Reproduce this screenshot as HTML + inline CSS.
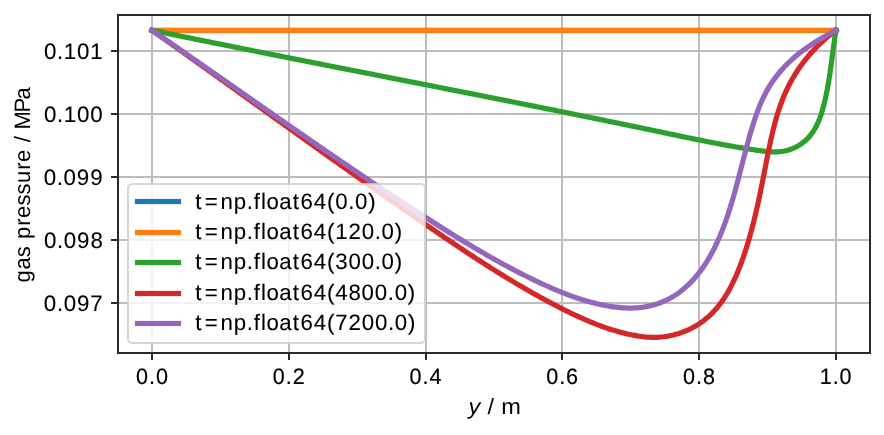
<!DOCTYPE html>
<html><head><meta charset="utf-8"><title>gas pressure</title>
<style>
html,body{margin:0;padding:0;background:#fff;}
body{width:884px;height:435px;overflow:hidden;}
svg{display:block;will-change:transform;}
text{font-family:"Liberation Sans",sans-serif;fill:#000;text-rendering:geometricPrecision;}
</style></head><body>
<svg width="884" height="435" viewBox="0 0 884 435">
<rect x="0" y="0" width="884" height="435" fill="#ffffff"/>
<g stroke="#bdbdbd" stroke-width="2" fill="none" shape-rendering="crispEdges">
<line x1="152.00" y1="15.00" x2="152.00" y2="353.00"/>
<line x1="289.00" y1="15.00" x2="289.00" y2="353.00"/>
<line x1="426.00" y1="15.00" x2="426.00" y2="353.00"/>
<line x1="562.00" y1="15.00" x2="562.00" y2="353.00"/>
<line x1="699.00" y1="15.00" x2="699.00" y2="353.00"/>
<line x1="836.00" y1="15.00" x2="836.00" y2="353.00"/>
<line x1="118.00" y1="51.00" x2="870.00" y2="51.00"/>
<line x1="118.00" y1="114.00" x2="870.00" y2="114.00"/>
<line x1="118.00" y1="177.00" x2="870.00" y2="177.00"/>
<line x1="118.00" y1="240.00" x2="870.00" y2="240.00"/>
<line x1="118.00" y1="303.00" x2="870.00" y2="303.00"/>
</g>
<g stroke="#2a2a2a" stroke-width="2" fill="none" shape-rendering="crispEdges">
<line x1="152.00" y1="353.00" x2="152.00" y2="360.00"/>
<line x1="289.00" y1="353.00" x2="289.00" y2="360.00"/>
<line x1="426.00" y1="353.00" x2="426.00" y2="360.00"/>
<line x1="562.00" y1="353.00" x2="562.00" y2="360.00"/>
<line x1="699.00" y1="353.00" x2="699.00" y2="360.00"/>
<line x1="836.00" y1="353.00" x2="836.00" y2="360.00"/>
<line x1="111.00" y1="51.00" x2="118.00" y2="51.00"/>
<line x1="111.00" y1="114.00" x2="118.00" y2="114.00"/>
<line x1="111.00" y1="177.00" x2="118.00" y2="177.00"/>
<line x1="111.00" y1="240.00" x2="118.00" y2="240.00"/>
<line x1="111.00" y1="303.00" x2="118.00" y2="303.00"/>
</g>
<defs><clipPath id="ax"><rect x="118.00" y="15.00" width="752.00" height="338.00"/></clipPath></defs>
<g clip-path="url(#ax)" fill="none" stroke-width="5.2" stroke-linecap="square" stroke-linejoin="round">
<rect x="149.6" y="28" width="688.8" height="5" fill="#1f77b4"/>
<rect x="149.6" y="27" width="688.8" height="1" fill="#1f77b4" fill-opacity="0.10"/>
<rect x="149.6" y="33" width="688.8" height="1" fill="#1f77b4" fill-opacity="0.10"/>
<rect x="149.6" y="28" width="688.8" height="4" fill="#ff7f0e"/>
<rect x="149.6" y="27" width="688.8" height="1" fill="#ff7f0e" fill-opacity="0.25"/>
<rect x="149.6" y="32" width="688.8" height="1" fill="#ff7f0e" fill-opacity="0.95"/>
<path d="M152.00,30.30 L153.92,30.70 L155.84,31.09 L157.77,31.48 L159.69,31.88 L161.61,32.27 L163.53,32.67 L165.46,33.06 L167.38,33.45 L169.30,33.85 L171.23,34.24 L173.15,34.63 L175.07,35.03 L177.00,35.42 L178.92,35.81 L180.84,36.20 L182.77,36.59 L184.69,36.98 L186.62,37.37 L188.54,37.77 L190.47,38.16 L192.39,38.55 L194.31,38.94 L196.24,39.33 L198.17,39.72 L200.09,40.11 L202.02,40.49 L203.94,40.88 L205.87,41.27 L207.79,41.66 L209.72,42.05 L211.64,42.44 L213.57,42.83 L215.50,43.21 L217.42,43.60 L219.35,43.99 L221.28,44.38 L223.20,44.76 L225.13,45.15 L227.06,45.54 L228.98,45.92 L230.91,46.31 L232.84,46.69 L234.77,47.08 L236.69,47.47 L238.62,47.85 L240.55,48.24 L242.48,48.62 L244.40,49.01 L246.33,49.39 L248.26,49.78 L250.19,50.16 L252.12,50.55 L254.05,50.93 L255.97,51.31 L257.90,51.70 L259.83,52.08 L261.76,52.47 L263.69,52.85 L265.62,53.23 L267.55,53.62 L269.48,54.00 L271.40,54.38 L273.33,54.77 L275.26,55.15 L277.19,55.53 L279.12,55.91 L281.05,56.30 L282.98,56.68 L284.91,57.06 L286.84,57.44 L288.77,57.82 L290.70,58.21 L292.63,58.59 L294.56,58.97 L296.49,59.35 L298.42,59.73 L300.35,60.11 L302.28,60.49 L304.21,60.88 L306.14,61.26 L308.07,61.64 L310.00,62.02 L311.93,62.40 L313.86,62.78 L315.79,63.16 L317.73,63.54 L319.66,63.92 L321.59,64.30 L323.52,64.68 L325.45,65.06 L327.38,65.44 L329.31,65.82 L331.24,66.20 L333.17,66.58 L335.10,66.96 L337.04,67.34 L338.97,67.72 L340.90,68.10 L342.83,68.48 L344.76,68.86 L346.69,69.24 L348.62,69.62 L350.55,70.00 L352.49,70.38 L354.42,70.76 L356.35,71.14 L358.28,71.52 L360.21,71.89 L362.14,72.27 L364.07,72.65 L366.01,73.03 L367.94,73.41 L369.87,73.79 L371.80,74.17 L373.73,74.55 L375.66,74.93 L377.59,75.31 L379.53,75.69 L381.46,76.06 L383.39,76.44 L385.32,76.82 L387.25,77.20 L389.18,77.58 L391.12,77.96 L393.05,78.34 L394.98,78.72 L396.91,79.10 L398.84,79.48 L400.77,79.86 L402.71,80.23 L404.64,80.61 L406.57,80.99 L408.50,81.37 L410.43,81.75 L412.36,82.13 L414.29,82.51 L416.23,82.89 L418.16,83.27 L420.09,83.65 L422.02,84.03 L423.95,84.41 L425.88,84.79 L427.81,85.16 L429.75,85.54 L431.68,85.92 L433.61,86.30 L435.54,86.68 L437.47,87.06 L439.40,87.44 L441.33,87.82 L443.26,88.20 L445.20,88.58 L447.13,88.96 L449.06,89.34 L450.99,89.72 L452.92,90.10 L454.85,90.48 L456.78,90.86 L458.71,91.24 L460.64,91.62 L462.57,92.00 L464.50,92.39 L466.43,92.77 L468.37,93.15 L470.30,93.53 L472.23,93.91 L474.16,94.29 L476.09,94.67 L478.02,95.05 L479.95,95.43 L481.88,95.82 L483.81,96.20 L485.74,96.58 L487.67,96.96 L489.60,97.34 L491.53,97.73 L493.46,98.11 L495.39,98.49 L497.32,98.87 L499.25,99.26 L501.17,99.64 L503.10,100.02 L505.03,100.40 L506.96,100.79 L508.89,101.17 L510.82,101.55 L512.75,101.94 L514.68,102.32 L516.61,102.71 L518.54,103.09 L520.46,103.47 L522.39,103.86 L524.32,104.24 L526.25,104.63 L528.18,105.01 L530.11,105.40 L532.03,105.78 L533.96,106.17 L535.89,106.55 L537.82,106.94 L539.75,107.32 L541.67,107.71 L543.60,108.10 L545.53,108.48 L547.45,108.87 L549.38,109.26 L551.31,109.64 L553.24,110.03 L555.16,110.42 L557.09,110.80 L559.02,111.19 L560.94,111.58 L562.87,111.97 L564.79,112.36 L566.72,112.74 L568.65,113.13 L570.57,113.52 L572.50,113.91 L574.42,114.30 L576.35,114.69 L578.27,115.08 L580.20,115.47 L582.12,115.86 L584.05,116.25 L585.97,116.64 L587.90,117.03 L589.82,117.42 L591.75,117.81 L593.67,118.20 L595.60,118.60 L597.52,118.99 L599.44,119.38 L601.37,119.77 L603.29,120.17 L605.22,120.56 L607.14,120.95 L609.06,121.34 L610.98,121.74 L612.91,122.13 L614.83,122.53 L616.75,122.92 L618.67,123.32 L620.60,123.71 L622.52,124.11 L624.44,124.50 L626.36,124.90 L628.28,125.29 L630.21,125.69 L632.13,126.09 L634.05,126.48 L635.97,126.88 L637.89,127.28 L639.81,127.67 L641.73,128.07 L643.65,128.47 L645.57,128.87 L647.49,129.27 L649.41,129.67 L651.33,130.07 L653.25,130.47 L655.17,130.87 L657.09,131.27 L659.01,131.67 L660.92,132.07 L662.84,132.47 L664.76,132.87 L666.68,133.27 L668.60,133.68 L670.52,134.08 L672.43,134.48 L674.35,134.88 L676.27,135.28 L678.19,135.68 L680.11,136.08 L682.03,136.48 L683.95,136.88 L685.87,137.28 L687.79,137.68 L689.71,138.07 L691.63,138.47 L693.55,138.86 L695.48,139.25 L697.40,139.64 L699.33,140.03 L701.25,140.42 L703.18,140.80 L705.11,141.18 L707.04,141.56 L708.97,141.94 L710.90,142.32 L712.84,142.69 L714.77,143.06 L716.71,143.43 L718.64,143.80 L720.58,144.16 L722.52,144.52 L724.47,144.88 L726.41,145.23 L728.36,145.58 L730.31,145.93 L732.26,146.27 L734.21,146.61 L736.16,146.95 L738.12,147.28 L740.08,147.61 L742.04,147.93 L744.00,148.25 L745.97,148.57 L747.93,148.88 L749.91,149.19 L751.88,149.49 L753.85,149.79 L755.83,150.08 L757.81,150.37 L759.80,150.65 L761.78,150.91 L763.76,151.15 L765.74,151.37 L767.72,151.55 L769.69,151.70 L771.65,151.80 L773.61,151.85 L775.56,151.85 L777.50,151.79 L779.42,151.67 L781.34,151.47 L783.24,151.20 L785.12,150.84 L786.98,150.41 L788.83,149.89 L790.65,149.28 L792.44,148.60 L794.21,147.85 L795.94,147.01 L797.63,146.11 L799.29,145.13 L800.90,144.08 L802.46,142.97 L803.98,141.78 L805.44,140.54 L806.85,139.23 L808.20,137.85 L809.49,136.42 L810.71,134.93 L811.88,133.39 L812.99,131.80 L814.04,130.16 L815.03,128.47 L815.98,126.74 L816.87,124.97 L817.72,123.17 L818.52,121.34 L819.28,119.48 L820.00,117.59 L820.69,115.68 L821.33,113.75 L821.94,111.81 L822.53,109.85 L823.08,107.88 L823.60,105.91 L824.10,103.93 L824.58,101.95 L825.04,99.98 L825.48,98.01 L825.91,96.05 L826.32,94.09 L826.71,92.14 L827.09,90.20 L827.46,88.26 L827.81,86.32 L828.15,84.39 L828.48,82.46 L828.80,80.54 L829.11,78.62 L829.41,76.69 L829.70,74.78 L829.99,72.86 L830.27,70.94 L830.54,69.03 L830.81,67.12 L831.07,65.20 L831.33,63.29 L831.59,61.37 L831.85,59.45 L832.10,57.54 L832.36,55.62 L832.61,53.69 L832.87,51.77 L833.13,49.84 L833.39,47.91 L833.65,45.97 L833.92,44.03 L834.20,42.09 L834.48,40.14 L834.77,38.18 L835.06,36.22 L835.37,34.25 L835.68,32.28 L836.00,30.30" stroke="#2ca02c"/>
<path d="M152.00,30.30 L153.99,31.71 L155.98,33.11 L157.97,34.52 L159.96,35.93 L161.95,37.34 L163.94,38.75 L165.93,40.16 L167.92,41.57 L169.91,42.98 L171.90,44.39 L173.89,45.80 L175.87,47.22 L177.86,48.63 L179.85,50.04 L181.84,51.46 L183.82,52.87 L185.81,54.28 L187.80,55.70 L189.78,57.12 L191.77,58.53 L193.76,59.95 L195.74,61.36 L197.73,62.78 L199.71,64.20 L201.70,65.62 L203.68,67.04 L205.67,68.45 L207.65,69.87 L209.64,71.29 L211.62,72.71 L213.61,74.13 L215.59,75.55 L217.58,76.97 L219.56,78.39 L221.54,79.81 L223.53,81.23 L225.51,82.65 L227.49,84.07 L229.48,85.50 L231.46,86.92 L233.45,88.34 L235.43,89.76 L237.41,91.18 L239.40,92.60 L241.38,94.03 L243.36,95.45 L245.34,96.87 L247.33,98.29 L249.31,99.72 L251.29,101.14 L253.28,102.56 L255.26,103.98 L257.24,105.41 L259.23,106.83 L261.21,108.25 L263.19,109.67 L265.18,111.10 L267.16,112.52 L269.14,113.94 L271.13,115.36 L273.11,116.79 L275.10,118.21 L277.08,119.63 L279.06,121.05 L281.05,122.47 L283.03,123.90 L285.01,125.32 L287.00,126.74 L288.98,128.16 L290.97,129.58 L292.95,131.00 L294.94,132.42 L296.92,133.84 L298.91,135.26 L300.89,136.68 L302.88,138.10 L304.86,139.52 L306.85,140.94 L308.84,142.36 L310.82,143.78 L312.81,145.20 L314.80,146.62 L316.78,148.03 L318.77,149.45 L320.76,150.87 L322.75,152.28 L324.73,153.70 L326.72,155.12 L328.71,156.53 L330.70,157.95 L332.69,159.36 L334.68,160.77 L336.67,162.19 L338.66,163.60 L340.65,165.01 L342.64,166.43 L344.63,167.84 L346.62,169.25 L348.61,170.66 L350.60,172.07 L352.59,173.48 L354.59,174.89 L356.58,176.30 L358.57,177.71 L360.56,179.11 L362.56,180.52 L364.55,181.93 L366.55,183.33 L368.54,184.74 L370.54,186.14 L372.53,187.54 L374.53,188.95 L376.53,190.35 L378.52,191.75 L380.52,193.15 L382.52,194.55 L384.52,195.95 L386.52,197.35 L388.52,198.75 L390.52,200.14 L392.52,201.54 L394.52,202.94 L396.52,204.33 L398.52,205.73 L400.52,207.12 L402.53,208.51 L404.53,209.90 L406.53,211.29 L408.54,212.68 L410.54,214.07 L412.55,215.46 L414.55,216.85 L416.56,218.23 L418.57,219.62 L420.58,221.00 L422.58,222.39 L424.59,223.77 L426.60,225.15 L428.61,226.53 L430.62,227.91 L432.63,229.29 L434.65,230.67 L436.66,232.04 L438.67,233.42 L440.69,234.79 L442.70,236.16 L444.72,237.53 L446.74,238.90 L448.76,240.27 L450.78,241.63 L452.80,242.99 L454.82,244.35 L456.84,245.71 L458.87,247.07 L460.90,248.42 L462.93,249.77 L464.96,251.12 L466.99,252.46 L469.02,253.81 L471.06,255.15 L473.10,256.48 L475.14,257.81 L477.18,259.14 L479.22,260.47 L481.27,261.79 L483.32,263.11 L485.37,264.43 L487.42,265.74 L489.48,267.04 L491.54,268.35 L493.60,269.65 L495.67,270.94 L497.73,272.23 L499.80,273.52 L501.87,274.80 L503.95,276.08 L506.03,277.35 L508.11,278.61 L510.20,279.88 L512.28,281.13 L514.38,282.39 L516.47,283.63 L518.57,284.87 L520.67,286.11 L522.78,287.34 L524.89,288.56 L527.00,289.78 L529.12,290.99 L531.24,292.20 L533.36,293.40 L535.49,294.60 L537.62,295.78 L539.76,296.96 L541.90,298.14 L544.04,299.31 L546.19,300.47 L548.35,301.62 L550.51,302.77 L552.67,303.91 L554.84,305.04 L557.01,306.17 L559.18,307.29 L561.37,308.40 L563.55,309.50 L565.74,310.60 L567.94,311.68 L570.14,312.76 L572.35,313.82 L574.56,314.87 L576.78,315.91 L579.01,316.93 L581.24,317.95 L583.47,318.94 L585.72,319.92 L587.97,320.88 L590.22,321.83 L592.48,322.76 L594.75,323.66 L597.03,324.55 L599.31,325.42 L601.60,326.26 L603.90,327.09 L606.21,327.89 L608.52,328.66 L610.84,329.42 L613.17,330.14 L615.51,330.84 L617.85,331.52 L620.21,332.16 L622.57,332.78 L624.94,333.37 L627.32,333.92 L629.71,334.45 L632.11,334.94 L634.51,335.40 L636.93,335.83 L639.35,336.21 L641.78,336.54 L644.21,336.83 L646.64,337.05 L649.08,337.22 L651.52,337.32 L653.97,337.35 L656.41,337.31 L658.85,337.19 L661.28,337.00 L663.71,336.74 L666.13,336.40 L668.54,336.00 L670.93,335.52 L673.31,334.97 L675.67,334.36 L678.01,333.67 L680.33,332.92 L682.63,332.11 L684.90,331.23 L687.14,330.28 L689.35,329.28 L691.52,328.21 L693.66,327.07 L695.77,325.88 L697.83,324.63 L699.86,323.32 L701.83,321.95 L703.77,320.53 L705.65,319.05 L707.49,317.51 L709.27,315.92 L711.01,314.28 L712.69,312.58 L714.33,310.84 L715.93,309.06 L717.48,307.23 L718.99,305.35 L720.45,303.44 L721.88,301.49 L723.26,299.50 L724.61,297.47 L725.91,295.41 L727.18,293.32 L728.41,291.20 L729.61,289.05 L730.78,286.88 L731.91,284.68 L733.01,282.46 L734.08,280.22 L735.12,277.96 L736.13,275.68 L737.11,273.39 L738.07,271.08 L739.00,268.76 L739.91,266.44 L740.79,264.10 L741.65,261.76 L742.49,259.41 L743.32,257.07 L744.12,254.72 L744.90,252.37 L745.67,250.02 L746.42,247.67 L747.15,245.33 L747.86,242.98 L748.57,240.63 L749.25,238.28 L749.92,235.93 L750.58,233.59 L751.22,231.24 L751.85,228.89 L752.47,226.54 L753.07,224.19 L753.67,221.84 L754.25,219.48 L754.82,217.13 L755.38,214.78 L755.93,212.42 L756.48,210.07 L757.01,207.71 L757.54,205.35 L758.06,202.99 L758.57,200.63 L759.07,198.27 L759.57,195.91 L760.07,193.54 L760.55,191.18 L761.04,188.81 L761.52,186.44 L761.99,184.06 L762.47,181.69 L762.94,179.31 L763.41,176.93 L763.88,174.55 L764.34,172.17 L764.81,169.78 L765.27,167.39 L765.74,165.00 L766.21,162.61 L766.68,160.21 L767.15,157.81 L767.62,155.41 L768.10,153.01 L768.58,150.60 L769.07,148.20 L769.57,145.80 L770.08,143.39 L770.59,140.99 L771.12,138.59 L771.66,136.20 L772.21,133.80 L772.78,131.42 L773.36,129.03 L773.96,126.65 L774.57,124.28 L775.21,121.91 L775.86,119.56 L776.54,117.21 L777.24,114.86 L777.96,112.53 L778.70,110.21 L779.47,107.89 L780.27,105.59 L781.09,103.30 L781.95,101.02 L782.83,98.76 L783.74,96.51 L784.69,94.27 L785.67,92.05 L786.68,89.84 L787.73,87.65 L788.82,85.48 L789.94,83.32 L791.09,81.18 L792.28,79.06 L793.51,76.95 L794.77,74.87 L796.06,72.81 L797.39,70.76 L798.75,68.74 L800.14,66.73 L801.56,64.75 L803.02,62.79 L804.50,60.85 L806.02,58.94 L807.57,57.05 L809.14,55.18 L810.74,53.33 L812.38,51.51 L814.04,49.72 L815.73,47.95 L817.44,46.21 L819.19,44.49 L820.96,42.80 L822.75,41.14 L824.57,39.50 L826.42,37.89 L828.29,36.32 L830.18,34.77 L832.10,33.25 L834.04,31.76 L836.00,30.30" stroke="#d62728"/>
<path d="M152.00,30.30 L153.91,31.61 L155.83,32.93 L157.74,34.24 L159.66,35.56 L161.57,36.87 L163.48,38.19 L165.40,39.51 L167.31,40.82 L169.22,42.14 L171.13,43.46 L173.04,44.78 L174.95,46.10 L176.86,47.42 L178.77,48.74 L180.68,50.07 L182.59,51.39 L184.50,52.71 L186.41,54.03 L188.32,55.36 L190.22,56.68 L192.13,58.01 L194.04,59.33 L195.95,60.66 L197.85,61.98 L199.76,63.31 L201.67,64.63 L203.57,65.96 L205.48,67.29 L207.39,68.61 L209.29,69.94 L211.20,71.27 L213.10,72.60 L215.01,73.93 L216.91,75.25 L218.82,76.58 L220.72,77.91 L222.63,79.24 L224.53,80.57 L226.44,81.90 L228.34,83.23 L230.25,84.56 L232.15,85.89 L234.06,87.22 L235.96,88.55 L237.87,89.88 L239.77,91.21 L241.68,92.54 L243.58,93.86 L245.49,95.19 L247.39,96.52 L249.30,97.85 L251.20,99.18 L253.11,100.51 L255.01,101.84 L256.92,103.17 L258.82,104.50 L260.73,105.83 L262.63,107.16 L264.54,108.48 L266.44,109.81 L268.35,111.14 L270.26,112.47 L272.16,113.80 L274.07,115.12 L275.98,116.45 L277.88,117.78 L279.79,119.10 L281.70,120.43 L283.61,121.75 L285.51,123.08 L287.42,124.41 L289.33,125.73 L291.24,127.05 L293.15,128.38 L295.06,129.70 L296.97,131.02 L298.88,132.35 L300.79,133.67 L302.70,134.99 L304.61,136.31 L306.52,137.63 L308.43,138.95 L310.34,140.27 L312.26,141.59 L314.17,142.90 L316.08,144.22 L317.99,145.54 L319.91,146.85 L321.82,148.17 L323.74,149.48 L325.65,150.80 L327.57,152.11 L329.49,153.42 L331.40,154.73 L333.32,156.05 L335.24,157.36 L337.16,158.67 L339.08,159.97 L341.00,161.28 L342.92,162.59 L344.84,163.89 L346.76,165.20 L348.68,166.50 L350.60,167.81 L352.53,169.11 L354.45,170.41 L356.37,171.71 L358.30,173.01 L360.22,174.31 L362.15,175.61 L364.08,176.90 L366.01,178.20 L367.93,179.49 L369.86,180.79 L371.79,182.08 L373.72,183.37 L375.65,184.66 L377.59,185.95 L379.52,187.24 L381.45,188.52 L383.39,189.81 L385.32,191.09 L387.26,192.38 L389.19,193.66 L391.13,194.94 L393.07,196.22 L395.01,197.50 L396.95,198.77 L398.89,200.05 L400.83,201.32 L402.77,202.59 L404.72,203.87 L406.66,205.14 L408.61,206.41 L410.55,207.67 L412.50,208.94 L414.45,210.20 L416.40,211.47 L418.35,212.73 L420.30,213.99 L422.25,215.25 L424.21,216.50 L426.16,217.76 L428.11,219.01 L430.07,220.26 L432.03,221.52 L433.99,222.76 L435.95,224.01 L437.91,225.26 L439.87,226.50 L441.83,227.74 L443.80,228.98 L445.76,230.22 L447.73,231.45 L449.70,232.68 L451.67,233.91 L453.64,235.13 L455.62,236.36 L457.59,237.58 L459.57,238.79 L461.55,240.00 L463.53,241.21 L465.52,242.42 L467.51,243.62 L469.50,244.82 L471.49,246.01 L473.48,247.20 L475.48,248.39 L477.47,249.57 L479.48,250.74 L481.48,251.91 L483.49,253.08 L485.50,254.24 L487.51,255.40 L489.52,256.55 L491.54,257.70 L493.56,258.84 L495.58,259.97 L497.61,261.10 L499.64,262.23 L501.68,263.35 L503.71,264.46 L505.75,265.56 L507.80,266.66 L509.84,267.76 L511.89,268.85 L513.95,269.93 L516.01,271.00 L518.07,272.07 L520.13,273.13 L522.20,274.18 L524.28,275.23 L526.36,276.26 L528.44,277.29 L530.52,278.32 L532.61,279.33 L534.71,280.34 L536.81,281.34 L538.91,282.33 L541.02,283.32 L543.13,284.29 L545.25,285.26 L547.37,286.21 L549.49,287.16 L551.62,288.10 L553.76,289.02 L555.90,289.93 L558.05,290.83 L560.20,291.71 L562.36,292.58 L564.52,293.43 L566.69,294.27 L568.87,295.09 L571.05,295.89 L573.24,296.67 L575.43,297.44 L577.63,298.19 L579.84,298.91 L582.05,299.62 L584.27,300.30 L586.50,300.96 L588.73,301.60 L590.97,302.22 L593.22,302.81 L595.47,303.37 L597.73,303.91 L600.00,304.42 L602.28,304.91 L604.56,305.37 L606.86,305.80 L609.16,306.20 L611.46,306.57 L613.77,306.90 L616.09,307.19 L618.41,307.45 L620.73,307.67 L623.06,307.84 L625.38,307.96 L627.71,308.04 L630.03,308.06 L632.36,308.04 L634.68,307.95 L636.99,307.81 L639.30,307.61 L641.60,307.34 L643.90,307.01 L646.19,306.62 L648.46,306.17 L650.73,305.65 L652.97,305.07 L655.20,304.43 L657.41,303.72 L659.60,302.96 L661.76,302.13 L663.90,301.24 L666.01,300.29 L668.08,299.28 L670.13,298.21 L672.15,297.08 L674.12,295.89 L676.06,294.64 L677.97,293.33 L679.83,291.98 L681.66,290.56 L683.46,289.10 L685.21,287.60 L686.93,286.05 L688.62,284.45 L690.26,282.82 L691.87,281.15 L693.45,279.45 L694.99,277.71 L696.49,275.94 L697.95,274.15 L699.39,272.32 L700.78,270.48 L702.15,268.60 L703.48,266.70 L704.77,264.78 L706.04,262.84 L707.28,260.88 L708.48,258.89 L709.66,256.89 L710.80,254.86 L711.92,252.82 L713.01,250.77 L714.08,248.69 L715.12,246.60 L716.13,244.50 L717.12,242.38 L718.09,240.26 L719.03,238.12 L719.96,235.97 L720.86,233.81 L721.73,231.64 L722.59,229.46 L723.43,227.28 L724.25,225.09 L725.06,222.89 L725.84,220.70 L726.61,218.50 L727.37,216.29 L728.11,214.08 L728.83,211.87 L729.54,209.66 L730.24,207.45 L730.92,205.23 L731.59,203.01 L732.26,200.79 L732.91,198.57 L733.55,196.34 L734.18,194.12 L734.81,191.89 L735.42,189.66 L736.03,187.43 L736.64,185.20 L737.24,182.96 L737.83,180.73 L738.42,178.49 L739.00,176.25 L739.58,174.01 L740.16,171.77 L740.74,169.53 L741.32,167.29 L741.89,165.05 L742.47,162.81 L743.05,160.57 L743.63,158.33 L744.21,156.09 L744.80,153.85 L745.39,151.60 L745.98,149.36 L746.58,147.12 L747.18,144.88 L747.79,142.64 L748.41,140.40 L749.04,138.16 L749.67,135.92 L750.32,133.69 L750.97,131.45 L751.63,129.22 L752.31,126.98 L753.00,124.75 L753.70,122.53 L754.42,120.31 L755.16,118.09 L755.91,115.88 L756.69,113.68 L757.49,111.49 L758.31,109.32 L759.16,107.15 L760.04,105.00 L760.94,102.86 L761.88,100.74 L762.84,98.63 L763.84,96.54 L764.88,94.48 L765.95,92.43 L767.06,90.40 L768.21,88.40 L769.40,86.42 L770.63,84.46 L771.90,82.53 L773.21,80.62 L774.55,78.74 L775.94,76.88 L777.36,75.05 L778.81,73.25 L780.30,71.47 L781.82,69.72 L783.38,68.00 L784.97,66.30 L786.59,64.64 L788.23,63.00 L789.91,61.39 L791.62,59.80 L793.35,58.25 L795.11,56.73 L796.90,55.24 L798.71,53.77 L800.54,52.33 L802.40,50.92 L804.27,49.54 L806.17,48.18 L808.08,46.84 L810.01,45.53 L811.95,44.24 L813.91,42.98 L815.88,41.73 L817.86,40.51 L819.85,39.31 L821.85,38.12 L823.86,36.95 L825.88,35.81 L827.90,34.67 L829.92,33.56 L831.95,32.46 L833.97,31.37 L836.00,30.30" stroke="#9467bd"/>
</g>
<rect x="118.00" y="15.00" width="752.00" height="338.00" fill="none" stroke="#2a2a2a" stroke-width="2" shape-rendering="crispEdges"/>
<rect x="128" y="184" width="297" height="159" rx="4.5" ry="4.5" fill="#ffffff" fill-opacity="0.8" stroke="#cccccc" stroke-opacity="0.8" stroke-width="2"/>
<rect x="134.9" y="198.90" width="46.2" height="5.2" fill="#1f77b4"/>
<text transform="translate(194.330,208.580) scale(1.0000,1)" font-size="22.25" stroke="#000" stroke-width="0.10" x="0.99 10.36 26.16 39.30 52.35 59.51 66.55 72.19 84.95 98.49 106.07 119.44 132.61 140.82 153.85 160.69 173.86" y="0">t=np.float64(0.0)</text>
<rect x="134.9" y="229.90" width="46.2" height="5.2" fill="#ff7f0e"/>
<text transform="translate(194.330,239.000) scale(1.0000,1)" font-size="22.25" stroke="#000" stroke-width="0.10" x="0.99 10.36 26.16 39.30 52.35 59.51 66.55 72.19 84.95 98.49 106.07 119.44 132.61 140.82 154.07 167.32 180.35 187.19 200.36" y="0">t=np.float64(120.0)</text>
<rect x="134.9" y="259.90" width="46.2" height="5.2" fill="#2ca02c"/>
<text transform="translate(194.330,269.420) scale(1.0000,1)" font-size="22.25" stroke="#000" stroke-width="0.10" x="0.99 10.36 26.16 39.30 52.35 59.51 66.55 72.19 84.95 98.49 106.07 119.44 132.61 140.82 154.07 167.32 180.35 187.19 200.36" y="0">t=np.float64(300.0)</text>
<rect x="134.9" y="290.90" width="46.2" height="5.2" fill="#d62728"/>
<text transform="translate(194.330,299.830) scale(1.0000,1)" font-size="22.25" stroke="#000" stroke-width="0.10" x="0.99 10.36 26.16 39.30 52.35 59.51 66.55 72.19 84.95 98.49 106.07 119.44 132.61 140.82 154.07 167.19 180.44 193.47 200.32 213.48" y="0">t=np.float64(4800.0)</text>
<rect x="134.9" y="320.90" width="46.2" height="5.2" fill="#9467bd"/>
<text transform="translate(194.330,330.250) scale(1.0000,1)" font-size="22.25" stroke="#000" stroke-width="0.10" x="0.99 10.36 26.16 39.30 52.35 59.51 66.55 72.19 84.95 98.49 106.07 119.44 132.61 140.82 154.07 167.32 180.57 193.60 200.44 213.61" y="0">t=np.float64(7200.0)</text>
<text transform="translate(135.470,383.600) scale(0.9700,1)" font-size="22.25" stroke="#000" stroke-width="0.20" x="0.65 13.98 21.13" y="0">0.0</text>
<text transform="translate(272.200,383.600) scale(0.9700,1)" font-size="22.25" stroke="#000" stroke-width="0.20" x="0.65 13.98 21.13" y="0">0.2</text>
<text transform="translate(408.920,383.600) scale(0.9700,1)" font-size="22.25" stroke="#000" stroke-width="0.20" x="0.65 13.98 21.13" y="0">0.4</text>
<text transform="translate(545.590,383.600) scale(0.9700,1)" font-size="22.25" stroke="#000" stroke-width="0.20" x="0.65 13.98 21.13" y="0">0.6</text>
<text transform="translate(682.440,383.600) scale(0.9700,1)" font-size="22.25" stroke="#000" stroke-width="0.20" x="0.65 13.98 21.13" y="0">0.8</text>
<text transform="translate(819.110,383.600) scale(0.9700,1)" font-size="22.25" stroke="#000" stroke-width="0.20" x="0.65 13.98 21.13" y="0">1.0</text>
<text transform="translate(43.540,58.900) scale(0.9900,1)" font-size="22.5" stroke="#000" stroke-width="0.10" x="0.44 13.60 20.51 33.90 47.28" y="0">0.101</text>
<text transform="translate(43.540,121.900) scale(0.9900,1)" font-size="22.5" stroke="#000" stroke-width="0.10" x="0.44 13.60 20.51 33.90 47.28" y="0">0.100</text>
<text transform="translate(43.290,184.900) scale(0.9900,1)" font-size="22.5" stroke="#000" stroke-width="0.10" x="0.44 13.60 20.51 33.90 47.41" y="0">0.099</text>
<text transform="translate(43.540,247.900) scale(0.9900,1)" font-size="22.5" stroke="#000" stroke-width="0.10" x="0.44 13.60 20.51 33.90 47.41" y="0">0.098</text>
<text transform="translate(43.420,310.900) scale(0.9900,1)" font-size="22.5" stroke="#000" stroke-width="0.10" x="0.44 13.60 20.51 33.90 47.41" y="0">0.097</text>
<text transform="translate(468.410,413.920) scale(1.0600,1)" font-size="22.25" x="0.19 11.67 18.10 24.54 31.05" y="0"><tspan font-style="italic">y</tspan> / m</text>
<text transform="translate(30.210,283.060) rotate(-90) scale(0.9900,1)" font-size="22.25" x="0.49 13.64 26.18 37.73 44.43 57.94 65.82 78.45 89.44 100.99 114.38 122.26 135.46 142.12 149.22 155.24 172.41 185.49" y="0">gas pressure / MPa</text>
</svg>
</body></html>
